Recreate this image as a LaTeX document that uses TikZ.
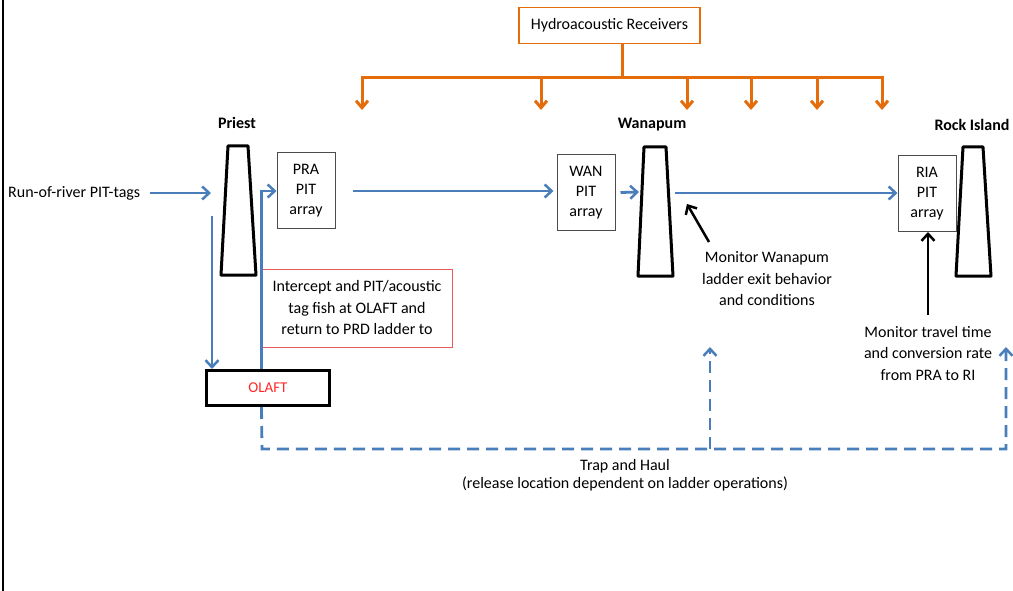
\documentclass[tikz,border=0pt]{standalone}
\usepackage{fontspec}
\setmainfont{Carlito}
\usetikzlibrary{arrows.meta}
\definecolor{orng}{RGB}{228,108,10}
\definecolor{blu}{RGB}{74,126,187}
\definecolor{redbox}{RGB}{232,90,90}
\definecolor{redtxt}{RGB}{255,40,40}
\begin{document}
\begin{tikzpicture}[x=1pt,y=-1pt,
  font=\fontsize{16}{21.5}\selectfont,
  lbl/.style={font=\fontsize{16}{20}\selectfont\bfseries},
  pitbox/.style={draw=black!70, line width=1pt, minimum width=58pt, minimum height=76pt, align=center, inner sep=0pt, font=\fontsize{16}{20}\selectfont},
  dam/.style={draw=black, line width=3pt, line join=round},
  barrow/.style={draw=blu, line width=2.8pt, -{Straight Barb[length=7pt,width=13pt,line width=2.5pt]}},
  bdash/.style={draw=blu, line width=2.8pt, dash pattern=on 12pt off 7pt, -{Straight Barb[length=7pt,width=13pt,line width=2.5pt]}},
  oarrow/.style={draw=orng, line width=3pt, -{Straight Barb[length=7pt,width=12pt,line width=3pt]}},
  oline/.style={draw=orng, line width=3pt},
  karrow/.style={draw=black, line width=2.5pt, -{Straight Barb[length=7pt,width=13pt,line width=2.5pt]}},
  txt/.style={align=center, inner sep=0pt}
]
\useasboundingbox (0,0) rectangle (1013,591);
\draw[line width=2pt] (3,0) -- (3,591);

% hydroacoustic receivers
\node[draw=orng, line width=1.5pt, minimum width=181pt, minimum height=36pt, inner sep=0pt] (hyd) at (609.5,25.5) {Hydroacoustic Receivers};
\coordinate (bus) at (622,78);
\draw[oline] (bus |- hyd.south) -- (bus);
\coordinate (busL) at (362,78);
\coordinate (busR) at (882,78);
\draw[oline, line cap=rect] (busL) -- (busR);
\foreach \x [count=\i] in {362,541,687,751,817,882} {
  \coordinate (rt\i) at (\x,78);
  \coordinate (rb\i) at (\x,110);
  \draw[oarrow] (rt\i) -- (rb\i);
}

% dam labels
\node[lbl] (priestlbl) at (237,123) {Priest};
\node[lbl] (wanlbl) at (652,125) {Wanapum};
\node[lbl] (rilbl) at (972,125) {Rock Island};

% dams
\draw[dam] (228,146) -- (248,146) -- (256,275) -- (221,275) -- cycle;
\draw[dam] (644,147) -- (666,147) -- (673,276) -- (638,276) -- cycle;
\draw[dam] (963,147) -- (983,147) -- (991,276) -- (956,276) -- cycle;
\coordinate (priestin) at (211,193);
\coordinate (priestdown) at (212,216);
\coordinate (wandamin) at (639,192);
\coordinate (wandamout) at (675,193);
\coordinate (wandamexit) at (687,204);

% PIT boxes
\node[pitbox] (pra) at (306,191) {PRA\\PIT\\array};
\node[pitbox] (wan) at (586,192.5) {WAN\\PIT\\array};
\node[pitbox] (ria) at (927,193.5) {RIA\\PIT\\array};

% OLAFT
\node[draw=black, line width=3pt, minimum width=123pt, minimum height=35pt, inner sep=0pt, text=redtxt, font=\fontsize{15}{18}\selectfont] (olaft) at (268,388) {OLAFT};

% intercept box
\node[draw=redbox, line width=1pt, minimum width=190pt, minimum height=78pt, align=center, inner sep=0pt] (icpt) at (357,308) {Intercept and PIT/acoustic\\tag fish at OLAFT and\\return to PRD ladder to};

% run of river
\node[txt, anchor=west] (run) at (8,193) {Run-of-river PIT-tags};
\draw[barrow] ([xshift=10pt]run.east) -- (priestin);
\draw[barrow] (priestdown) -- (priestdown |- olaft.north);
\draw[barrow] (olaft.north -| icpt.west) -- (icpt.west |- pra.west) -- (pra.west);
\draw[barrow, shorten >=3pt] ([xshift=17pt]pra.east) -- (pra.east -| wan.west);
\draw[barrow] ([xshift=5pt]wan.east) -- (wandamin);
\draw[barrow] (wandamout) -- (wandamout -| ria.west);

% monitor annotations
\node[txt] (monwan) at (767,279) {Monitor Wanapum\\ladder exit behavior\\and conditions};
\coordinate (monwantail) at (709,242);
\draw[karrow] (monwantail) -- (wandamexit);
\node[txt] (montrav) at (928,353.5) {Monitor travel time\\and conversion rate\\from PRA to RI};
\coordinate (montravtail) at (928,315);
\draw[karrow] (montravtail) -- (montravtail |- ria.south);

% trap and haul
\coordinate (thL) at (262,449);
\coordinate (thM) at (710,449);
\coordinate (thR) at (1006,449);
\coordinate (tipM) at (710,347);
\coordinate (tipR) at (1006,347);
\draw[bdash] (olaft.south -| icpt.west) -- (thL) -- (thR) -- (tipR);
\draw[bdash] (thM) -- (tipM);
\node[txt, font=\fontsize{16}{18}\selectfont] (trap) at (625,475) {Trap and Haul\\(release location dependent on ladder operations)};
\end{tikzpicture}
\end{document}
